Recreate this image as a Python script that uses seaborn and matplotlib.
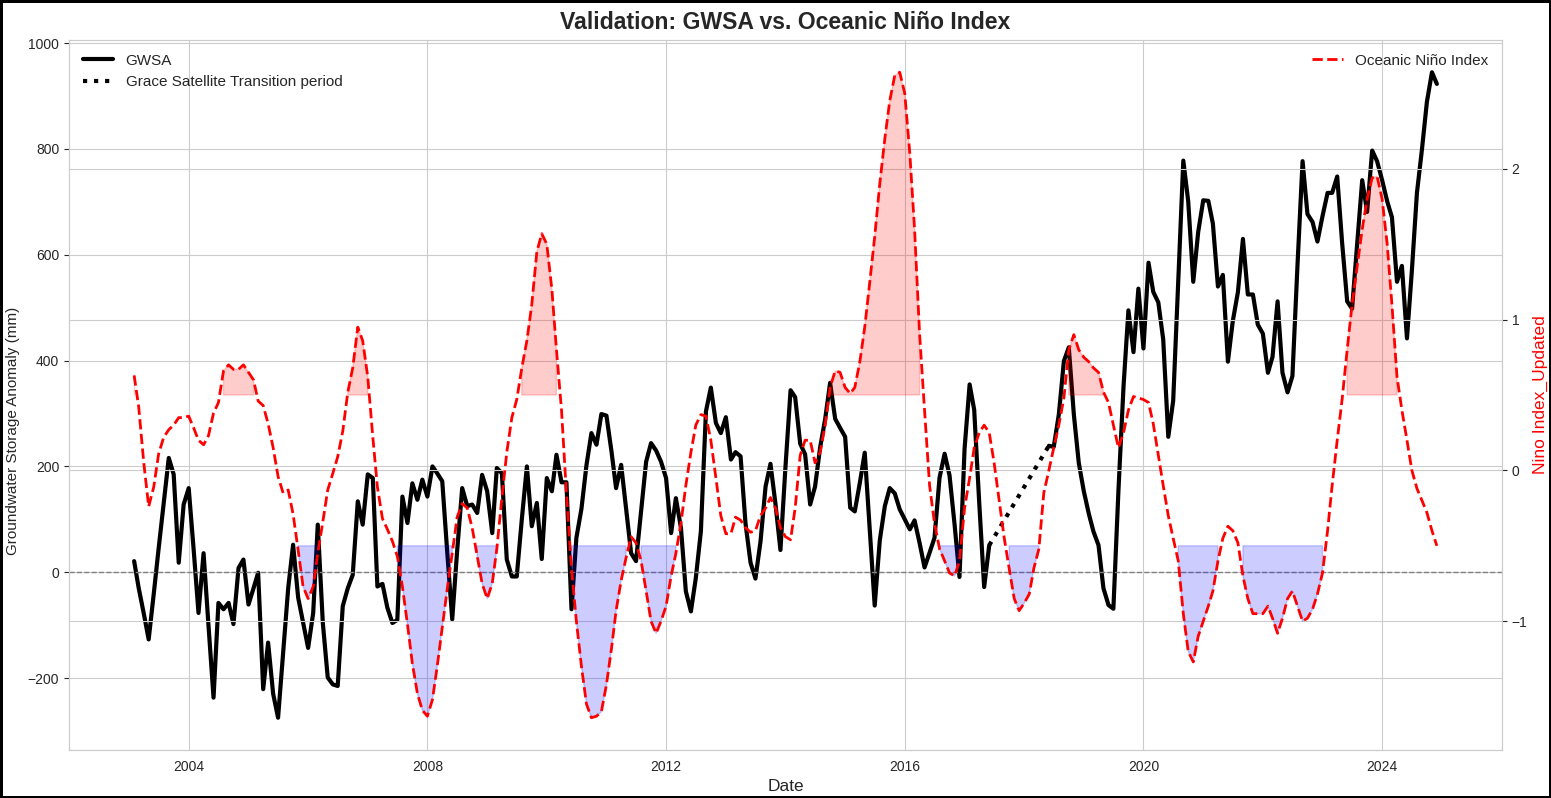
import numpy as np
import pandas as pd
import seaborn as sns
import matplotlib.pyplot as plt
import matplotlib.dates as mdates

sns.set_style("whitegrid")
plt.rcParams['font.family'] = ['Liberation Sans', 'DejaVu Sans']

# monthly dates, Feb 2003 - Dec 2024
dates = pd.date_range('2003-02-01', '2024-12-01', freq='MS')

# GRACE (Feb 2003 - Jun 2017)
gwsa_grace = [21, -30, -78, -127, -41, 45, 130, 216, 185, 18, 128, 159,
              40, -77, 36, -100, -237, -58, -70, -58, -98, 8, 24, -61,
              -30, -1, -221, -133, -230, -275, -152, -30, 52, -48, -95, -143,
              -77, 90, -96, -199, -212, -215, -64, -30, -5, 134, 90, 185,
              178, -27, -22, -67, -96, -90, 143, 93, 168, 137, 175, 143,
              200, 187, 172, 40, -89, 40, 159, 125, 128, 112, 184, 153,
              74, 197, 187, 24, -8, -8, 100, 200, 87, 131, 25, 178,
              153, 222, 170, 170, -70, 65, 120, 203, 263, 241, 299, 296,
              228, 159, 203, 121, 36, 21, 115, 209, 244, 230, 209, 178,
              74, 140, 84, -36, -74, -11, 77, 304, 349, 282, 263, 293,
              213, 227, 219, 93, 18, -12, 58, 162, 205, 128, 42, 200,
              344, 331, 243, 223, 128, 162, 236, 290, 358, 290, 273, 256,
              122, 115, 169, 226, 80, -63, 60, 125, 159, 149, 119, 100,
              81, 98, 55, 9, 37, 65, 179, 224, 183, 90, -9, 233,
              355, 307, 130, -28, 51]

# GRACE-FO (Jun 2018 - Dec 2024)
gwsa_fo = [239, 237, 298, 399, 425, 298, 207, 153, 110, 77, 51, -30,
           -62, -69, 155, 351, 495, 416, 536, 423, 585, 530, 510, 440,
           256, 324, 550, 778, 701, 549, 643, 703, 702, 659, 540, 562,
           398, 475, 529, 630, 525, 525, 468, 451, 377, 407, 512, 377,
           340, 371, 581, 777, 677, 662, 625, 673, 717, 717, 748, 623,
           512, 498, 620, 741, 681, 797, 777, 741, 701, 671, 549, 579,
           442, 570, 717, 800, 889, 945, 923]

oni = [0.63, 0.42, 0.05, -0.24, -0.11, 0.11, 0.22, 0.27, 0.30, 0.35, 0.35, 0.36,
       0.28, 0.20, 0.17, 0.23, 0.38, 0.45, 0.66, 0.70, 0.67, 0.67, 0.70, 0.65,
       0.60, 0.46, 0.43, 0.31, 0.15, -0.04, -0.15, -0.13, -0.29, -0.53, -0.77, -0.85,
       -0.77, -0.55, -0.34, -0.13, -0.02, 0.09, 0.26, 0.52, 0.68, 0.95, 0.86, 0.62,
       0.22, -0.11, -0.32, -0.39, -0.47, -0.57, -0.77, -1.02, -1.28, -1.48, -1.59, -1.63,
       -1.52, -1.30, -1.04, -0.79, -0.55, -0.31, -0.22, -0.25, -0.38, -0.57, -0.75, -0.85,
       -0.75, -0.52, -0.18, 0.12, 0.35, 0.47, 0.68, 0.86, 1.10, 1.45, 1.57, 1.50,
       1.20, 0.80, 0.40, -0.15, -0.65, -1.00, -1.30, -1.55, -1.64, -1.63, -1.60, -1.42,
       -1.18, -0.93, -0.73, -0.58, -0.44, -0.48, -0.60, -0.80, -1.00, -1.08, -1.00, -0.90,
       -0.70, -0.55, -0.35, -0.10, 0.12, 0.30, 0.37, 0.36, 0.20, -0.05, -0.30, -0.42,
       -0.42, -0.31, -0.33, -0.38, -0.41, -0.40, -0.30, -0.25, -0.18, -0.25, -0.38, -0.44,
       -0.46, -0.25, 0.10, 0.20, 0.20, 0.05, 0.12, 0.30, 0.55, 0.66, 0.65, 0.55,
       0.51, 0.55, 0.72, 0.95, 1.25, 1.55, 1.90, 2.20, 2.45, 2.62, 2.64, 2.50,
       2.10, 1.60, 0.90, 0.40, -0.10, -0.35, -0.52, -0.60, -0.68, -0.70, -0.60, -0.25,
       -0.05, 0.15, 0.25, 0.30, 0.25, 0.05, -0.20, -0.45, -0.65, -0.85, -0.93, -0.88,
       -0.82, -0.65, -0.52, -0.15, 0.00, 0.15, 0.30, 0.48, 0.80, 0.90, 0.80, 0.75,
       0.72, 0.68, 0.65, 0.52, 0.45, 0.30, 0.15, 0.25, 0.40, 0.49, 0.48, 0.47,
       0.45, 0.31, 0.10, -0.10, -0.30, -0.45, -0.60, -0.95, -1.20, -1.27, -1.10, -1.00,
       -0.90, -0.80, -0.60, -0.45, -0.37, -0.40, -0.48, -0.70, -0.85, -0.95, -0.95, -0.95,
       -0.90, -0.98, -1.08, -0.98, -0.85, -0.80, -0.90, -1.00, -0.98, -0.92, -0.82, -0.68,
       -0.40, -0.10, 0.20, 0.47, 0.80, 1.10, 1.35, 1.60, 1.80, 1.94, 1.95, 1.80,
       1.50, 1.10, 0.62, 0.40, 0.20, 0.00, -0.12, -0.20, -0.28, -0.40, -0.50]

n_gap = len(dates) - len(gwsa_grace) - len(gwsa_fo)
df = pd.DataFrame({'Date': dates,
                   'GWSA': gwsa_grace + [np.nan] * n_gap + gwsa_fo,
                   'ONI': oni})
grace = df.iloc[:len(gwsa_grace)]
grace_fo = df.iloc[len(gwsa_grace) + n_gap:]
gap = df.iloc[[len(gwsa_grace) - 1, len(gwsa_grace) + n_gap]]

fig, ax1 = plt.subplots(figsize=(15.51, 7.98), dpi=100)
fig.subplots_adjust(left=69/1551, right=1502/1551, top=1-40/798, bottom=1-750/798)
fig.patch.set_edgecolor('black')
fig.patch.set_linewidth(2.5)

sns.lineplot(data=grace, x='Date', y='GWSA', ax=ax1, color='black', linewidth=3, label='GWSA')
sns.lineplot(data=grace_fo, x='Date', y='GWSA', ax=ax1, color='black', linewidth=3)
ax1.plot(gap['Date'], gap['GWSA'], color='black', linestyle=':', linewidth=3,
         label='Grace Satellite Transition period')
ax1.axhline(0, color='gray', linestyle='--', linewidth=1)
ax1.set_xlabel('Date', fontsize=12.5)
ax1.set_ylabel('Groundwater Storage Anomaly (mm)', fontsize=11)
ax1.yaxis.set_label_coords(-0.034, 0.45)
ax1.legend(loc='upper left', fontsize=11, frameon=False)

ax2 = ax1.twinx()
sns.lineplot(data=df, x='Date', y='ONI', ax=ax2, color='red', linestyle='--', linewidth=2,
             label='Oceanic Niño Index')
o = df['ONI'].values
ax2.fill_between(df['Date'], o, 0.5, where=o > 0.5, color='red', alpha=0.2)
ax2.fill_between(df['Date'], o, -0.5, where=o < -0.5, color='blue', alpha=0.2)
ax2.set_ylabel('Nino Index_Updated', color='red', fontsize=12.5)
ax2.legend(loc='upper right', fontsize=11, frameon=False)

ax1.xaxis.set_major_locator(mdates.YearLocator(4))
ax1.xaxis.set_major_formatter(mdates.DateFormatter('%Y'))

plt.title('Validation: GWSA vs. Oceanic Niño Index', fontsize=16.6, fontweight='bold', pad=8)
plt.savefig('out.png', dpi=100)
